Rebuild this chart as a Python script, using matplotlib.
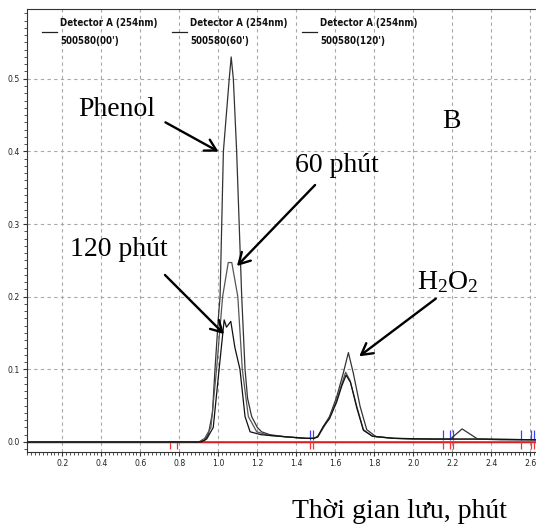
import matplotlib
matplotlib.use("Agg")
import matplotlib.pyplot as plt
from matplotlib.patches import FancyArrowPatch
from matplotlib.ticker import MultipleLocator

plt.rcParams['mathtext.fontset'] = 'custom'
plt.rcParams['mathtext.rm'] = 'Liberation Serif'
plt.rcParams['mathtext.it'] = 'Liberation Serif:italic'

# ---- data (retention time, min ; absorbance) ----
t_00 = [0.02, 0.90, 0.93, 0.95, 0.97, 0.983, 1.00, 1.009, 1.026, 1.056, 1.066, 1.077,
        1.094, 1.12, 1.137, 1.15, 1.171, 1.20, 1.222, 1.265, 1.35, 1.45, 1.49, 1.51,
        1.54, 1.57, 1.607, 1.641, 1.667, 1.692, 1.727, 1.761, 1.81, 1.90, 2.00, 2.10,
        2.19, 2.25, 2.33, 2.45, 2.63]
a_00 = [0.0, 0.0, 0.002, 0.012, 0.04, 0.10, 0.17, 0.20, 0.40, 0.50, 0.53, 0.50,
        0.40, 0.20, 0.10, 0.06, 0.035, 0.02, 0.014, 0.010, 0.007, 0.005, 0.005, 0.008,
        0.022, 0.035, 0.062, 0.095, 0.123, 0.095, 0.049, 0.017, 0.007, 0.005, 0.004, 0.004,
        0.004, 0.018, 0.004, 0.003, 0.003]

t_60 = [0.02, 0.90, 0.93, 0.962, 0.991, 1.022, 1.051, 1.069, 1.10, 1.123, 1.154, 1.197,
        1.26, 1.35, 1.45, 1.49, 1.51, 1.54, 1.57, 1.607, 1.633, 1.653, 1.675, 1.71,
        1.744, 1.79, 1.90, 2.10, 2.35, 2.63]
a_60 = [0.0, 0.0, 0.005, 0.02, 0.10, 0.20, 0.247, 0.247, 0.20, 0.10, 0.035, 0.014,
        0.009, 0.007, 0.005, 0.005, 0.007, 0.020, 0.033, 0.058, 0.080, 0.096, 0.085, 0.049,
        0.017, 0.008, 0.005, 0.004, 0.004, 0.003]

t_120 = [0.02, 0.91, 0.94, 0.974, 1.004, 1.03, 1.042, 1.064, 1.085, 1.111, 1.137, 1.163,
         1.22, 1.35, 1.45, 1.49, 1.51, 1.54, 1.57, 1.607, 1.633, 1.655, 1.678, 1.71,
         1.744, 1.79, 1.90, 2.10, 2.35, 2.63]
a_120 = [0.0, 0.0, 0.004, 0.02, 0.10, 0.168, 0.158, 0.166, 0.13, 0.10, 0.035, 0.014,
         0.010, 0.007, 0.005, 0.005, 0.007, 0.022, 0.032, 0.055, 0.077, 0.092, 0.082, 0.047,
         0.016, 0.008, 0.005, 0.004, 0.004, 0.003]

red_marks = [0.751, 0.787, 1.470, 1.484, 2.154, 2.188, 2.202, 2.552, 2.603, 2.621]
blue_marks = [1.470, 1.484, 2.154, 2.188, 2.202, 2.552, 2.603, 2.621]

legend_line1 = ["Detector A (254nm)", "Detector A (254nm)", "Detector A (254nm)"]
legend_line2 = ["500580(00')", "500580(60')", "500580(120')"]

x_ticks = [0.2, 0.4, 0.6, 0.8, 1.0, 1.2, 1.4, 1.6, 1.8, 2.0, 2.2, 2.4, 2.6]
x_labels = ['0.2', '0.4', '0.6', '0.8', '1.0', '1.2', '1.4', '1.6', '1.8',
            '2.0', '2.2', '2.4', '2.6']
y_ticks = [0.0, 0.1, 0.2, 0.3, 0.4, 0.5]
y_labels = ['0.0', '0.1', '0.2', '0.3', '0.4', '0.5']

W, H = 536, 526
fig = plt.figure(figsize=(W / 100, H / 100), dpi=100)
ax = fig.add_axes([27 / W, 74 / H, (536 - 27) / W, 443 / H])
ax.set_xlim(0.019, 2.629)
ax.set_ylim(-0.0138, 0.596)

narrow = ['DejaVu Sans']
serif = ['Liberation Serif', 'DejaVu Serif']

# grid
ax.xaxis.set_minor_locator(MultipleLocator(0.02))
ax.yaxis.set_minor_locator(MultipleLocator(0.01))
ax.set_xticks(x_ticks)
ax.set_xticklabels(x_labels)
ax.set_yticks(y_ticks)
ax.set_yticklabels(y_labels)
ax.grid(True, which='major', linestyle=(0, (3, 3)), color='#a8a8a8', linewidth=0.8)
ax.set_axisbelow(True)

# baseline + red integration line
ax.axhline(0.0, color='#222222', linewidth=1.0, zorder=2)
ax.plot([red_marks[0], 2.629], [0.0, 0.0], color='#ff2020', linewidth=1.2, zorder=3)
ax.vlines(red_marks, -0.009, 0.001, color='#ff3030', linewidth=0.9, zorder=3)
ax.vlines(blue_marks, 0.003, 0.016, color='#4040ff', linewidth=0.9, zorder=3)

# chromatograms
ax.plot(t_00, a_00, color='#333333', linewidth=0.9, zorder=4)
ax.plot(t_60, a_60, color='#555555', linewidth=0.9, zorder=4)
ax.plot(t_120, a_120, color='#111111', linewidth=0.9, zorder=4)

# ticks
ax.tick_params(axis='both', which='major', direction='out', length=3, width=0.8,
               color='#333333', labelsize=6.2, pad=2)
ax.tick_params(axis='both', which='minor', direction='out', length=2, width=0.6,
               color='#333333')
for lab in ax.get_xticklabels() + ax.get_yticklabels():
    lab.set_family(narrow)
    lab.set_stretch('condensed')
    lab.set_color('#222222')

for s in ['left', 'bottom', 'top']:
    ax.spines[s].set_color('#333333')
    ax.spines[s].set_linewidth(0.8)
ax.spines['right'].set_visible(False)


def fx(px):
    return px / W


def fy(py):
    return 1 - py / H


# legend entries
for (lx, tx), l1, l2 in zip([(42, 60), (172, 190), (302, 320)], legend_line1, legend_line2):
    fig.add_artist(plt.Line2D([fx(lx), fx(lx + 15)], [fy(31.5), fy(31.5)],
                              color='#222222', linewidth=0.9))
    fig.text(fx(tx), fy(23.5), l1, ha='left', va='center', fontsize=7.0,
             family=narrow, fontstretch='condensed', fontweight='bold', color='#111111')
    fig.text(fx(tx), fy(41.5), l2, ha='left', va='center', fontsize=7.0,
             family=narrow, fontstretch='condensed', fontweight='bold', color='#111111')


def ann(text, xy_px, txt_px, tail_px, size=20):
    fig.text(fx(txt_px[0]), fy(txt_px[1]), text, ha='center', va='center',
             fontsize=size, family=serif)
    fig.add_artist(FancyArrowPatch(
        (fx(tail_px[0]), fy(tail_px[1])), (fx(xy_px[0]), fy(xy_px[1])),
        transform=fig.transFigure, arrowstyle='->,head_length=8,head_width=4.5',
        color='black', linewidth=1.7, mutation_scale=1))


ann('Phenol', (221, 153), (117, 110), (163, 121))
ann('60 phút', (235, 268), (337, 165), (317, 183))
ann('120 phút', (226, 336), (119, 250), (163, 273))
ann(r'$\mathrm{H_2O_2}$', (357, 358), (448, 282), (438, 297))
fig.text(fx(451), fy(121), 'B', ha='center', va='center', fontsize=20, family=serif)

fig.text(fx(399), fy(511), 'Thời gian lưu, phút', ha='center', va='center',
         fontsize=20, family=serif)

fig.savefig('out.png', dpi=100)
